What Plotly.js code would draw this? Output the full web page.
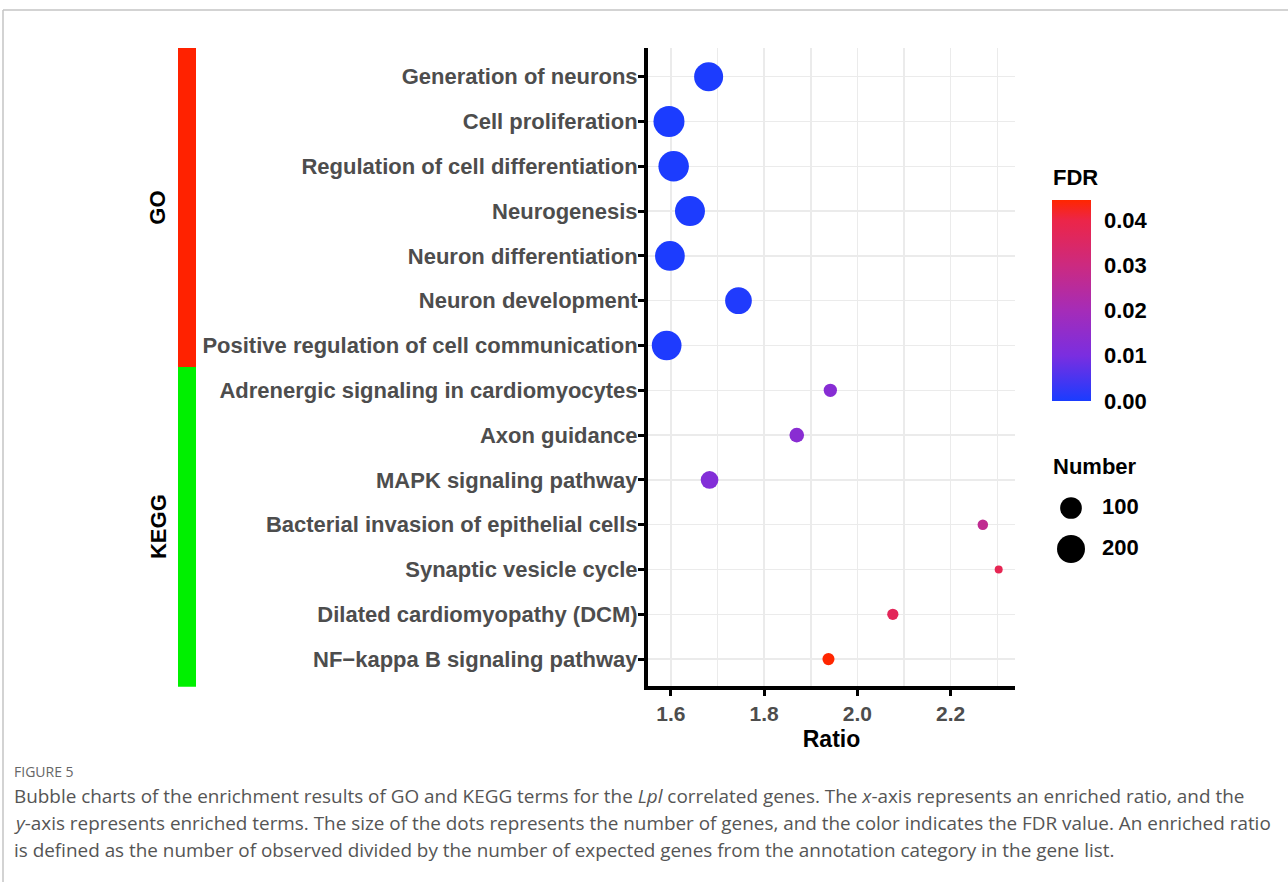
<!DOCTYPE html>
<html>
<head>
<meta charset="utf-8">
<script src="https://cdn.plot.ly/plotly-3.0.1.min.js"></script>
<style>html,body{margin:0;padding:0;background:#fff;}#chart{width:1288px;height:882px;}</style>
</head>
<body>
<div id="chart"></div>
<script>
// ---------- data ----------
const terms = [
  "Generation of neurons",
  "Cell proliferation",
  "Regulation of cell differentiation",
  "Neurogenesis",
  "Neuron differentiation",
  "Neuron development",
  "Positive regulation of cell communication",
  "Adrenergic signaling in cardiomyocytes",
  "Axon guidance",
  "MAPK signaling pathway",
  "Bacterial invasion of epithelial cells",
  "Synaptic vesicle cycle",
  "Dilated cardiomyopathy (DCM)",
  "NF\u2212kappa B signaling pathway"
];
const groups = ["GO","GO","GO","GO","GO","GO","GO",
                "KEGG","KEGG","KEGG","KEGG","KEGG","KEGG","KEGG"];
const ratio = [1.681, 1.596, 1.606, 1.641, 1.598, 1.745, 1.591,
               1.942, 1.870, 1.683, 2.269, 2.303, 2.076, 1.938];
const geneNumber = [220, 261, 250, 240, 234, 177, 234,
                    25, 33, 56, 15, 12, 17, 20];
const fdr = [0.0002, 0.0001, 0.0002, 0.0003, 0.0002, 0.0006, 0.0004,
             0.0130, 0.0135, 0.0120, 0.0270, 0.0380, 0.0370, 0.0444];
const fdrTicks = [0.00, 0.01, 0.02, 0.03, 0.04];
const xTicks = [1.6, 1.8, 2.0, 2.2];
const sizeLegendValues = [100, 200];
const groupNames = ["GO", "KEGG"];
const groupColors = {GO: "#ff2200", KEGG: "#00f000"};

// ---------- helpers ----------
const W = 1288, H = 882;
const px = v => v / W;
const py = v => (H - v) / H;
const nMin = Math.min(...geneNumber), nMax = Math.max(...geneNumber);
const dMin = 8, dMax = 31;
function sizeScale(n) {
  const f = Math.max(0, (n - nMin) / (nMax - nMin));
  return dMin + (dMax - dMin) * Math.sqrt(f);
}
const boldFont = (size, color) => ({family: "Liberation Sans, Arial, sans-serif", size: size, color: color, weight: "bold"});

const colorscale = [
  [0.0, "#1a3cff"],
  [0.225, "#7a2ee0"],
  [0.45, "#a52cb8"],
  [0.675, "#cc2a80"],
  [0.9, "#ec2548"],
  [1.0, "#ff2600"]
];

// group counts for the side bar
const counts = {};
groupNames.forEach(g => counts[g] = groups.filter(v => v === g).length);
const total = groups.length;

const plotTop = 48, plotBot = 686;
const yDomain = [py(plotBot), py(plotTop)];

const traces = [];

// main bubbles
traces.push({
  type: "scatter",
  mode: "markers",
  x: ratio,
  y: terms,
  xaxis: "x", yaxis: "y",
  marker: {
    size: geneNumber.map(sizeScale),
    sizemode: "diameter",
    color: fdr,
    colorscale: colorscale,
    cmin: 0,
    cmax: Math.max(...fdr),
    line: {width: 0},
    opacity: 1,
    showscale: true,
    colorbar: {
      x: px(1052), xanchor: "left",
      y: (py(401) + py(200)) / 2, yanchor: "middle",
      len: 201, lenmode: "pixels",
      thickness: 39, thicknessmode: "pixels",
      outlinewidth: 0,
      ticks: "outside", ticklen: 9, tickwidth: 1, tickcolor: "#ffffff",
      tickvals: fdrTicks, tickformat: ".2f",
      tickfont: boldFont(22, "#000"),
      xpad: 0, ypad: 0
    }
  },
  showlegend: false,
  hoverinfo: "x+y"
});

// side group bar (stacked, bottom group first)
[...groupNames].reverse().forEach(g => {
  traces.push({
    type: "bar",
    x: ["grp"],
    y: [counts[g]],
    xaxis: "x2", yaxis: "y2",
    marker: {color: groupColors[g], line: {width: 0}},
    width: 1,
    showlegend: false,
    hoverinfo: "skip"
  });
});

// size legend markers and labels
traces.push({
  type: "scatter",
  mode: "markers",
  x: sizeLegendValues.map(() => "m"),
  y: sizeLegendValues.map(String),
  xaxis: "x3", yaxis: "y3",
  marker: {size: sizeLegendValues.map(sizeScale), color: "#000000", opacity: 1, line: {width: 0}},
  cliponaxis: false,
  showlegend: false, hoverinfo: "skip"
});
traces.push({
  type: "scatter",
  mode: "text",
  x: sizeLegendValues.map(() => "t"),
  y: sizeLegendValues.map(String),
  text: sizeLegendValues.map(String),
  textposition: "middle right",
  textfont: boldFont(22, "#000"),
  cliponaxis: false,
  xaxis: "x3", yaxis: "y3",
  showlegend: false, hoverinfo: "skip"
});

// group label annotations at group midpoints
const annotations = [];
let cum = 0;
[...groupNames].reverse().forEach(g => {
  annotations.push({
    text: g, xref: "paper", x: px(158), yref: "y2", y: cum + counts[g] / 2,
    textangle: -90, showarrow: false, font: boldFont(22, "#000"),
    xanchor: "center", yanchor: "middle"
  });
  cum += counts[g];
});

annotations.push({
  text: "FDR", xref: "paper", yref: "paper", x: px(1051), y: py(178),
  xanchor: "left", yanchor: "middle", showarrow: false, font: boldFont(22, "#000")
});
annotations.push({
  text: "Number", xref: "paper", yref: "paper", x: px(1051), y: py(466),
  xanchor: "left", yanchor: "middle", showarrow: false, font: boldFont(22, "#000")
});

// caption
const capFont = {family: "Open Sans, sans-serif", size: 18.9, color: "#555555"};
annotations.push({
  text: "FIGURE 5", xref: "paper", yref: "paper", x: px(12), y: py(771),
  xanchor: "left", yanchor: "middle", showarrow: false,
  font: {family: "Open Sans, sans-serif", size: 14, color: "#666666"}
});
const capLines = [
  "Bubble charts of the enrichment results of GO and KEGG terms for the <i>Lpl</i> correlated genes. The <i>x</i>-axis represents an enriched ratio, and the",
  "<i>y</i>-axis represents enriched terms. The size of the dots represents the number of genes, and the color indicates the FDR value. An enriched ratio",
  "is defined as the number of observed divided by the number of expected genes from the annotation category in the gene list."
];
const capY = [796, 823, 850];
capLines.forEach((t, i) => annotations.push({
  text: t, xref: "paper", yref: "paper", x: px(12), y: py(capY[i]),
  xanchor: "left", yanchor: "middle", showarrow: false, font: capFont, align: "left"
}));

const layout = {
  width: W, height: H,
  margin: {l: 0, r: 0, t: 0, b: 0},
  paper_bgcolor: "#ffffff",
  plot_bgcolor: "#ffffff",
  barmode: "stack",
  bargap: 0,
  showlegend: false,
  xaxis: {
    domain: [px(648), px(1015)],
    range: [1.551, 2.338],
    tickvals: xTicks, tickformat: ".1f",
    tickfont: boldFont(21, "#4d4d4d"),
    ticks: "outside", ticklen: 6, tickwidth: 3, tickcolor: "#000",
    showline: true, linecolor: "#000", linewidth: 4,
    showgrid: true, gridcolor: "#ebebeb", gridwidth: 1.5,
    minor: {dtick: 0.1, tick0: 1.6, showgrid: true, gridcolor: "#ebebeb", gridwidth: 1.5, ticks: ""},
    zeroline: false,
    title: {text: "Ratio", font: boldFont(23, "#000"), standoff: 8},
    automargin: false,
    fixedrange: true
  },
  yaxis: {
    domain: yDomain,
    type: "category",
    categoryorder: "array", categoryarray: terms,
    range: [13.6, -0.64],
    tickfont: boldFont(22, "#4d4d4d"),
    ticks: "outside", ticklen: 6, tickwidth: 3, tickcolor: "#000",
    ticklabelstandoff: -4,
    showline: true, linecolor: "#000", linewidth: 4,
    showgrid: true, gridcolor: "#ebebeb", gridwidth: 1.5,
    zeroline: false,
    automargin: false,
    fixedrange: true
  },
  xaxis2: {
    domain: [px(178), px(196)], anchor: "y2",
    range: [-0.5, 0.5], visible: false, fixedrange: true
  },
  yaxis2: {
    domain: [py(686.7), py(plotTop)], anchor: "x2",
    range: [0, total], visible: false, fixedrange: true
  },
  xaxis3: {
    domain: [px(1055.5), px(1117.5)], anchor: "y3",
    type: "category", categoryarray: ["m", "t"],
    range: [-0.5, 1.5], visible: false, fixedrange: true
  },
  yaxis3: {
    domain: [py(570), py(480)], anchor: "x3",
    type: "category", categoryarray: sizeLegendValues.map(String),
    range: [1.512, -0.683], visible: false, fixedrange: true
  },
  annotations: annotations,
  shapes: [
    {type: "line", xref: "paper", yref: "paper", x0: px(3), x1: 1, y0: py(10), y1: py(10), line: {color: "#c4c4c4", width: 1.5}},
    {type: "line", xref: "paper", yref: "paper", x0: px(3), x1: px(3), y0: py(10), y1: 0, line: {color: "#c4c4c4", width: 1.5}}
  ]
};

Plotly.newPlot("chart", traces, layout, {displayModeBar: false, staticPlot: true});
</script>
</body>
</html>
